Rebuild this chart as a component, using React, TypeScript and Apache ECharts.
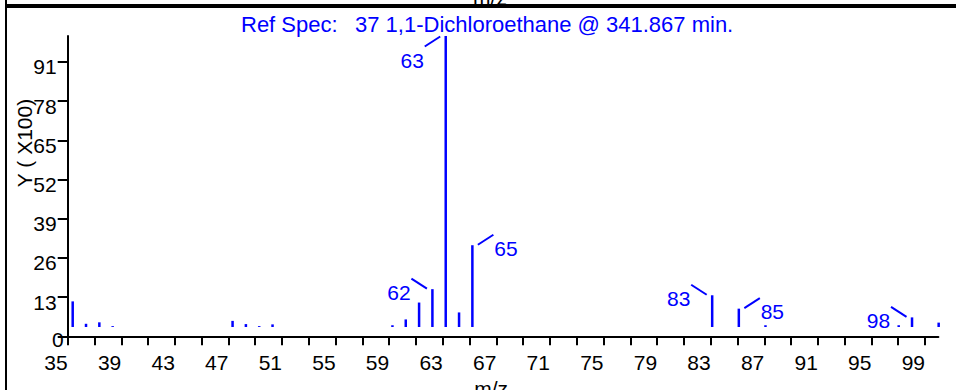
import React, { useEffect, useRef } from 'react';
import * as echarts from 'echarts';

// m/z positions and relative intensities (% of base peak 63)
const mzValues = [35, 36, 37, 38, 47, 48, 49, 50, 59, 60, 61, 62, 63, 64, 65, 83, 85, 87, 97, 98, 100];
const intensities = [8.8, 1.1, 1.6, 0.3, 2.1, 1.0, 0.3, 0.9, 0.6, 2.6, 8.4, 13.0, 100, 5.0, 28.1, 10.9, 6.3, 0.6, 0.6, 3.3, 1.5];

// annotated peaks: side -1 = label to the left, 1 = right; rise 1 = leader goes up, -1 = down
const annotatedMz = [62, 63, 65, 83, 85, 98];
const annotationSide = [-1, -1, 1, -1, 1, -1];
const annotationRise = [1, -1, 1, 1, 1, 1];

const xTickValues = [35, 37, 39, 41, 43, 45, 47, 49, 51, 53, 55, 57, 59, 61, 63, 65, 67, 69, 71, 73, 75, 77, 79, 81, 83, 85, 87, 89, 91, 93, 95, 97, 99];
const xLabelValues = [35, 39, 43, 47, 51, 55, 59, 63, 67, 71, 75, 79, 83, 87, 91, 95, 99];
const yTickValues = [0, 13, 26, 39, 52, 65, 78, 91];
const yLabelValues = [13, 26, 39, 52, 65, 78, 91];
const yZeroLabel = [0];

const titleLabel = 'Ref Spec:';
const titleText = '37 1,1-Dichloroethane @ 341.867 min.';
const xAxisName = 'm/z';
const yAxisName = 'Y ( X100)';

const BLUE = '#0000ff';
const FONT = 'Liberation Sans';
const FS = 21;

export default function App() {
  const ref = useRef<HTMLDivElement>(null);

  useEffect(() => {
    if (!ref.current) return;
    const chart = echarts.init(ref.current, null, { renderer: 'svg' });

    const axisText = { color: '#000', fontSize: FS, fontFamily: FONT };

    chart.setOption({
      animation: false,
      backgroundColor: '#fff',
      textStyle: { fontFamily: FONT },
      grid: { left: 67.7, right: 17.6, top: 36, bottom: 53.7, outerBoundsMode: 'none' },
      xAxis: [
        { type: 'value', min: 34.625, max: 99.98, show: false },
        {
          type: 'value', min: 35, max: 100, position: 'bottom',
          axisLine: { show: true, onZero: false, lineStyle: { color: '#000', width: 2 } },
          axisTick: { show: true, customValues: xTickValues, length: 9, lineStyle: { color: '#000', width: 2 } },
          axisLabel: { customValues: xLabelValues, margin: 16, align: 'right', ...axisText },
          splitLine: { show: false },
          name: xAxisName, nameLocation: 'middle', nameGap: 36,
          nameTextStyle: { ...axisText, padding: [0, 24, 0, 0] },
        },
      ],
      yAxis: [
        { type: 'value', min: -3.2, max: 100, show: false, position: 'left' },
        {
          type: 'value', min: 0, max: 99.6, position: 'left',
          axisLine: { show: true, onZero: false, lineStyle: { color: '#000', width: 2 } },
          axisTick: { show: true, customValues: yTickValues, length: 10, lineStyle: { color: '#000', width: 2 } },
          axisLabel: { customValues: yLabelValues, margin: 11, verticalAlign: 'top', lineHeight: 10, ...axisText },
          splitLine: { show: false },
        },
        {
          type: 'value', min: 0, max: 99.6, position: 'left',
          axisLine: { show: false, onZero: false },
          axisTick: { show: false },
          axisLabel: { customValues: yZeroLabel, margin: 4, verticalAlign: 'top', lineHeight: 7, ...axisText },
          splitLine: { show: false },
        },
      ],
      series: [
        {
          type: 'bar', xAxisIndex: 0, yAxisIndex: 0,
          data: mzValues.map((m, i) => [m, intensities[i]]),
          barWidth: 2.5,
          itemStyle: { color: BLUE },
          silent: true,
        },
        {
          type: 'custom', xAxisIndex: 0, yAxisIndex: 0, clip: false, silent: true, z: 5,
          data: annotatedMz.map((m, i) => [m, intensities[mzValues.indexOf(m)], annotationSide[i], annotationRise[i]]),
          renderItem: (params: any, api: any) => {
            const p = api.coord([api.value(0), api.value(1)]);
            const s = api.value(2);
            const r = api.value(3);
            const x0 = p[0] + s * 5.5;
            const y0 = p[1] - r * 0.5;
            const x1 = p[0] + s * 21;
            const y1 = p[1] - r * 10.5;
            const tx = x1 + s * 12.5;
            const ty = y1 + (r > 0 ? 13.5 : 14.3);
            return {
              type: 'group',
              children: [
                { type: 'line', shape: { x1: x0, y1: y0, x2: x1, y2: y1 }, style: { stroke: BLUE, lineWidth: 2 } },
                {
                  type: 'text', x: tx, y: ty,
                  style: { text: String(api.value(0)), fill: BLUE, font: `${FS}px ${FONT}`, align: 'center', verticalAlign: 'middle' },
                },
              ],
            };
          },
        },
      ],
      graphic: [
        { type: 'text', x: 490, y: -3, style: { text: xAxisName, fill: '#000', font: `${FS}px ${FONT}`, align: 'center', verticalAlign: 'middle' } },
        { type: 'rect', shape: { x: 6, y: 4, width: 950, height: 4 }, style: { fill: '#000' } },
        { type: 'line', shape: { x1: 6, y1: 0, x2: 6, y2: 390 }, style: { stroke: '#000', lineWidth: 2 } },
        { type: 'text', x: 241, y: 24, style: { text: titleLabel, fill: BLUE, font: `22px ${FONT}`, align: 'left', verticalAlign: 'middle' } },
        { type: 'text', x: 355, y: 24, style: { text: titleText, fill: BLUE, font: `22px ${FONT}`, align: 'left', verticalAlign: 'middle' } },
        { type: 'text', x: 24, y: 143, rotation: Math.PI / 2, style: { text: yAxisName, fill: '#000', font: `${FS}px ${FONT}`, align: 'center', verticalAlign: 'middle' } },
      ],
    });

    return () => chart.dispose();
  }, []);

  return (
    <div
      ref={ref}
      style={{ position: 'fixed', left: 0, top: 0, width: 956, height: 390, background: '#fff' }}
    />
  );
}
